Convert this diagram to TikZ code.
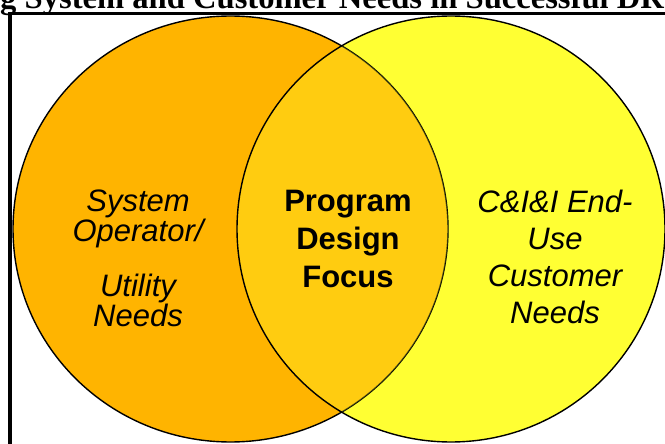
\documentclass[tikz,border=0pt]{standalone}
\usepackage{fontspec}
\setmainfont{Liberation Serif}
\setsansfont{Liberation Sans}
\usetikzlibrary{positioning}

\definecolor{utilorange}{HTML}{FFB400}
\definecolor{custyellow}{HTML}{FFFF33}

\begin{document}
\begin{tikzpicture}[x=1pt,y=-1pt,font=\sffamily,
		ring/.style={draw=black, line width=1.4pt},
		needs/.style={align=center, anchor=base, inner sep=0pt, font=\sffamily\itshape\fontsize{31}{37}\selectfont},
		focus/.style={needs, font=\sffamily\bfseries\fontsize{31}{38}\selectfont},]
	\useasboundingbox (0,0) rectangle (665,444);
	\coordinate (utilc) at (230.5,229);
	\coordinate (custc) at (451,229);

	% the two circles, lens by transparency
	\fill[custyellow] (custc) ellipse [x radius=214, y radius=213];
	\filldraw[fill=utilorange, ring] (utilc) ellipse [x radius=217.5, y radius=213];
	\begin{scope}
		\clip (utilc) ellipse [x radius=217.5, y radius=213];
		\fill[custyellow, fill opacity=.32] (custc) ellipse [x radius=214, y radius=213];
	\end{scope}
	\draw[ring] (custc) ellipse [x radius=214, y radius=213];

	% frame and cut title
	\draw[line width=3.5pt] (10,470) -- (10,13.5) -- (690,13.5);
	\node[anchor=base west, inner sep=0pt, font=\rmfamily\bfseries\fontsize{32.6}{36}\selectfont] (title) at (0,9) {g System and Customer Needs in Successful DR};

	% base of each label is its last line
	\node[needs, font=\sffamily\itshape\fontsize{31}{28.5}\selectfont] (util) at (138,326) {System\\Operator/\\[24.5pt]Utility\\Needs};
	\node[focus] (prog) at (348,287) {Program\\Design\\Focus};
	\node[needs] (cust) at (555,323) {C\&I\&I End-\\Use\\Customer\\Needs};
\end{tikzpicture}
\end{document}
